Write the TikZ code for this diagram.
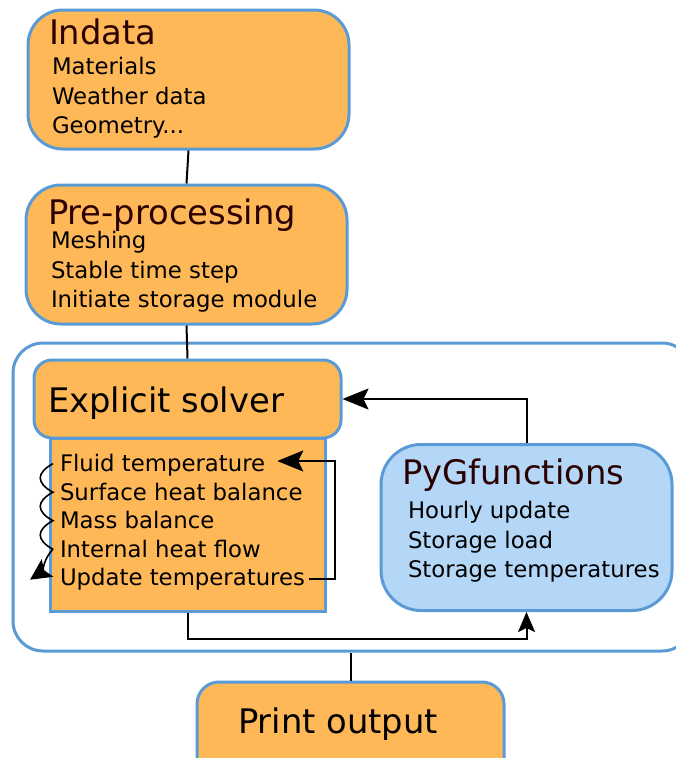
\documentclass[tikz,border=0pt]{standalone}
\usepackage{fontspec}
\setmainfont{DejaVu Sans}
\usetikzlibrary{arrows.meta}

\definecolor{boxorange}{HTML}{FFB858}
\definecolor{boxblue}{HTML}{B4D7F8}
\definecolor{rimblue}{HTML}{5B9BD5}
\definecolor{titlebrown}{HTML}{2B0000}

\begin{document}
\begin{tikzpicture}[x=1pt,y=1pt,line width=2pt]
\tikzset{stepbox/.style={draw=rimblue,line width=3pt,fill=boxorange,
    rounded corners=35pt,inner sep=0pt},
  pygbox/.style={stepbox,fill=boxblue,rounded corners=40pt},
  framebox/.style={draw=rimblue,line width=3pt,fill=white,
    rounded corners=30pt,inner sep=0pt},
  headtext/.style={anchor=base west,inner sep=0pt,
    font=\fontsize{33.8}{40}\selectfont},
  itemtext/.style={anchor=base west,inner sep=0pt,align=left,
    font=\fontsize{22.8}{29.5}\selectfont},
  bigtip/.style={-{Stealth[length=26pt,width=21pt,inset=5pt]}},
}
\useasboundingbox (0,0) rectangle (676,-758);
\clip (0,0) rectangle (676,-758);

% outer frame of the time loop
\node[framebox,minimum width=679pt,minimum height=308pt] (frame) at (352.5,-497) {};

% boxes
\node[stepbox,minimum width=321pt,minimum height=139pt] (indata) at (188.5,-79.5) {};
\node[stepbox,minimum width=321pt,minimum height=139pt] (pre) at (186.5,-254.5) {};
\node[stepbox,rounded corners=0pt,minimum width=275pt,minimum height=173pt] (lower) at (187.5,-524.5) {};
\node[stepbox,rounded corners=18pt,minimum width=307pt,minimum height=78pt] (explicit) at (187.5,-399) {};
\node[pygbox,minimum width=291pt,minimum height=166pt] (pyg) at (526.5,-527.5) {};
\node[stepbox,rounded corners=22pt,minimum width=307pt,minimum height=108pt] (print) at (350.5,-736) {};

% texts (base of a multi-line node is its last line)
\node[headtext,text=titlebrown] (indatahead) at (48,-44) {Indata};
\node[itemtext] (indatatext) at (51,-133.5) {Materials\\Weather data\\Geometry...};
\node[headtext,text=titlebrown] (prehead) at (47,-224) {Pre-processing};
\node[itemtext] (pretext) at (50,-307.5) {Meshing\\Stable time step\\Initiate storage module};
\node[headtext] (explicithead) at (47,-412) {Explicit solver};
\node[itemtext] (fluid) at (59,-471.7) {Fluid temperature};
\node[itemtext] (surface) at (59,-500.2) {Surface heat balance};
\node[itemtext] (mass) at (59,-528.7) {Mass balance};
\node[itemtext] (internal) at (59,-557.2) {Internal heat flow};
\node[itemtext] (update) at (59,-585.7) {Update temperatures};
\node[headtext,text=titlebrown] (pyghead) at (401,-484) {PyGfunctions};
\node[itemtext] (pygtext) at (407,-577.5) {Hourly update\\Storage load\\Storage temperatures};
\node[headtext] (printhead) at (237,-733) {Print output};

% connectors
\draw (indata.south) -- (pre.north);
\draw (pre.south) -- (explicit.north);
\draw (print.north) -- (print.north |- frame.south);
\draw[bigtip] (pyg.north) |- (explicit.east);
\draw[-{Stealth[length=20pt,width=17pt,inset=4pt]}] (lower.south) -- ++(0,-26) -| (pyg.south);
\coordinate (loopcorner) at (335,-461);
\draw[bigtip] ([xshift=3pt]update.east) -| (loopcorner) -- ([xshift=11pt]fluid.east |- loopcorner);

% sweep through the solver steps
\draw[line width=1.6pt] ([xshift=-6pt,yshift=8pt]fluid.base west)
  .. controls +(-17,-9) and +(-17,9) .. ([xshift=-6pt,yshift=8pt]surface.base west)
  .. controls +(-17,-9) and +(-17,9) .. ([xshift=-6pt,yshift=8pt]mass.base west)
  .. controls +(-17,-9) and +(-17,9) .. ([xshift=-6pt,yshift=8pt]internal.base west);
\draw[line width=1.6pt,-{Stealth[length=21pt,width=21pt,inset=4pt]}]
  ([xshift=-6pt,yshift=8pt]internal.base west)
  .. controls +(-9,-9) and +(12,8) .. ([xshift=-29pt,yshift=6pt]update.base west);

\end{tikzpicture}
\end{document}
